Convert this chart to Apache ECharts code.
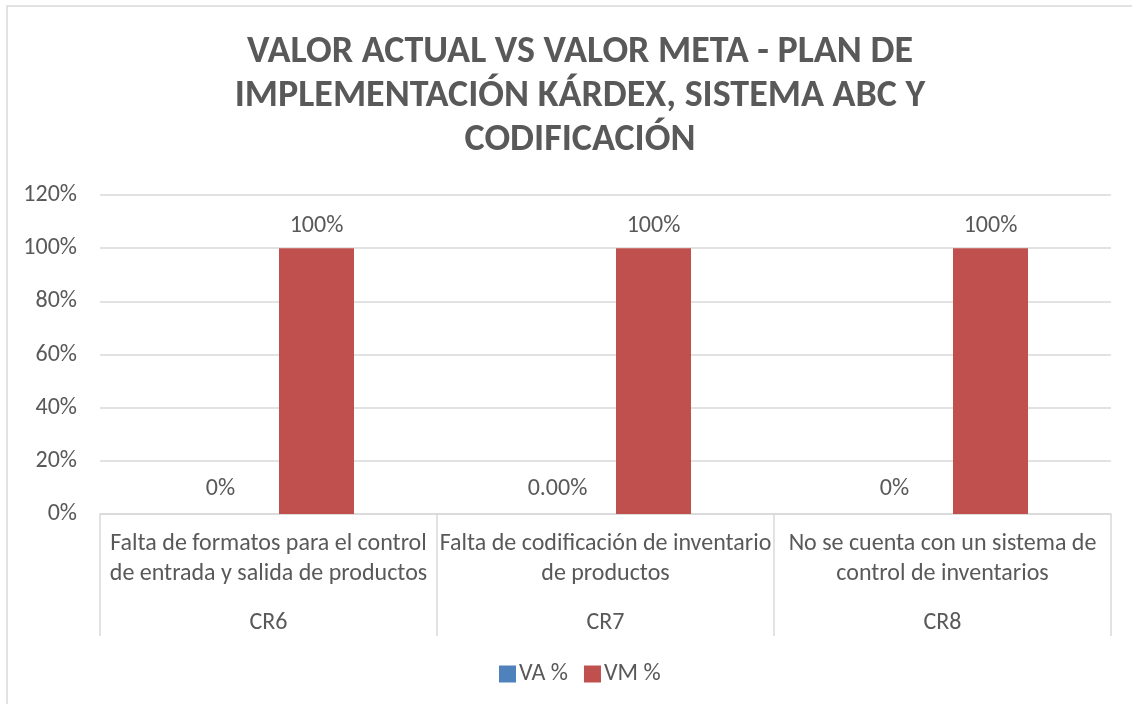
<!DOCTYPE html>
<html>
<head>
<meta charset="utf-8">
<script src="https://cdn.jsdelivr.net/npm/echarts@6/dist/echarts.min.js"></script>
<style>html,body{margin:0;padding:0;background:#fff;}#c{width:1132px;height:704px;}</style>
</head>
<body>
<div id="c"></div>
<script>
var titleText = 'VALOR ACTUAL VS VALOR META - PLAN DE\nIMPLEMENTACIÓN KÁRDEX, SISTEMA ABC Y\nCODIFICACIÓN';
var categories = [
  'Falta de formatos para el control\nde entrada y salida de productos',
  'Falta de codificación de inventario\nde productos',
  'No se cuenta con un sistema de\ncontrol de inventarios'
];
var groups = ['CR6', 'CR7', 'CR8'];
var seriesNames = ['VA %', 'VM %'];
var vaValues = [0, 0, 0];
var vmValues = [100, 100, 100];
var vaLabels = ['0%', '0.00%', '0%'];
var vmLabels = ['100%', '100%', '100%'];
var yTicks = { min: 0, max: 120, interval: 20 };

var FONT = 'Carlito, Lato, sans-serif';
var TXT = '#595959';
var GRID = '#d9d9d9';

var chart = echarts.init(document.getElementById('c'), null, { renderer: 'canvas' });
chart.setOption({
  animation: false,
  backgroundColor: '#fff',
  textStyle: { fontFamily: FONT },
  title: {
    text: titleText,
    left: 580,
    top: 30,
    padding: 0,
    textAlign: 'center',
    textStyle: { fontFamily: FONT, fontSize: 38, fontWeight: 'bold', color: TXT, lineHeight: 44 }
  },
  graphic: [{
    type: 'rect',
    shape: { x: 7, y: 6, width: 1200, height: 800 },
    style: { fill: 'none', stroke: GRID, lineWidth: 1.5 },
    silent: true, z: -1
  }],
  legend: {
    data: seriesNames,
    left: 494,
    top: 657,
    itemWidth: 17,
    itemHeight: 17,
    itemGap: 16,
    icon: 'rect',
    textStyle: { fontFamily: FONT, fontSize: 24, color: TXT, padding: [0, 0, 0, -2] }
  },
  grid: { left: 100, right: 21, top: 195, bottom: 190, containLabel: false },
  xAxis: [{
    type: 'category',
    data: categories,
    position: 'bottom',
    axisLine: { show: true, lineStyle: { color: GRID, width: 1.5 } },
    axisTick: { show: true, length: 122, interval: 0, lineStyle: { color: GRID, width: 1.5 } },
    axisLabel: { interval: 0, margin: 15, fontFamily: FONT, fontSize: 24, lineHeight: 30, color: TXT, align: 'center' },
    splitLine: { show: false }
  }, {
    type: 'category',
    data: groups,
    position: 'bottom',
    axisLine: { show: false },
    axisTick: { show: false },
    axisLabel: { interval: 0, margin: 97, fontFamily: FONT, fontSize: 24, color: TXT },
    splitLine: { show: false }
  }],
  yAxis: {
    type: 'value',
    min: yTicks.min, max: yTicks.max, interval: yTicks.interval,
    axisLine: { show: false },
    axisTick: { show: false },
    axisLabel: { margin: 23, fontFamily: FONT, fontSize: 24, color: TXT, formatter: function (v) { return v + '%'; } },
    splitLine: { lineStyle: { color: GRID, width: 1.5 } }
  },
  series: [{
    name: seriesNames[0],
    type: 'bar',
    xAxisIndex: 0,
    data: vaValues,
    barWidth: 75,
    barGap: '28%',
    itemStyle: { color: '#4f81bd' },
    label: { show: true, position: 'top', distance: 13, fontFamily: FONT, fontSize: 24, color: TXT,
      formatter: function (p) { return vaLabels[p.dataIndex]; } }
  }, {
    name: seriesNames[1],
    type: 'bar',
    xAxisIndex: 0,
    data: vmValues,
    barWidth: 75,
    barGap: '28%',
    itemStyle: { color: '#c0504d' },
    label: { show: true, position: 'top', distance: 10, fontFamily: FONT, fontSize: 24, color: TXT,
      formatter: function (p) { return vmLabels[p.dataIndex]; } }
  }]
});
</script>
</body>
</html>
